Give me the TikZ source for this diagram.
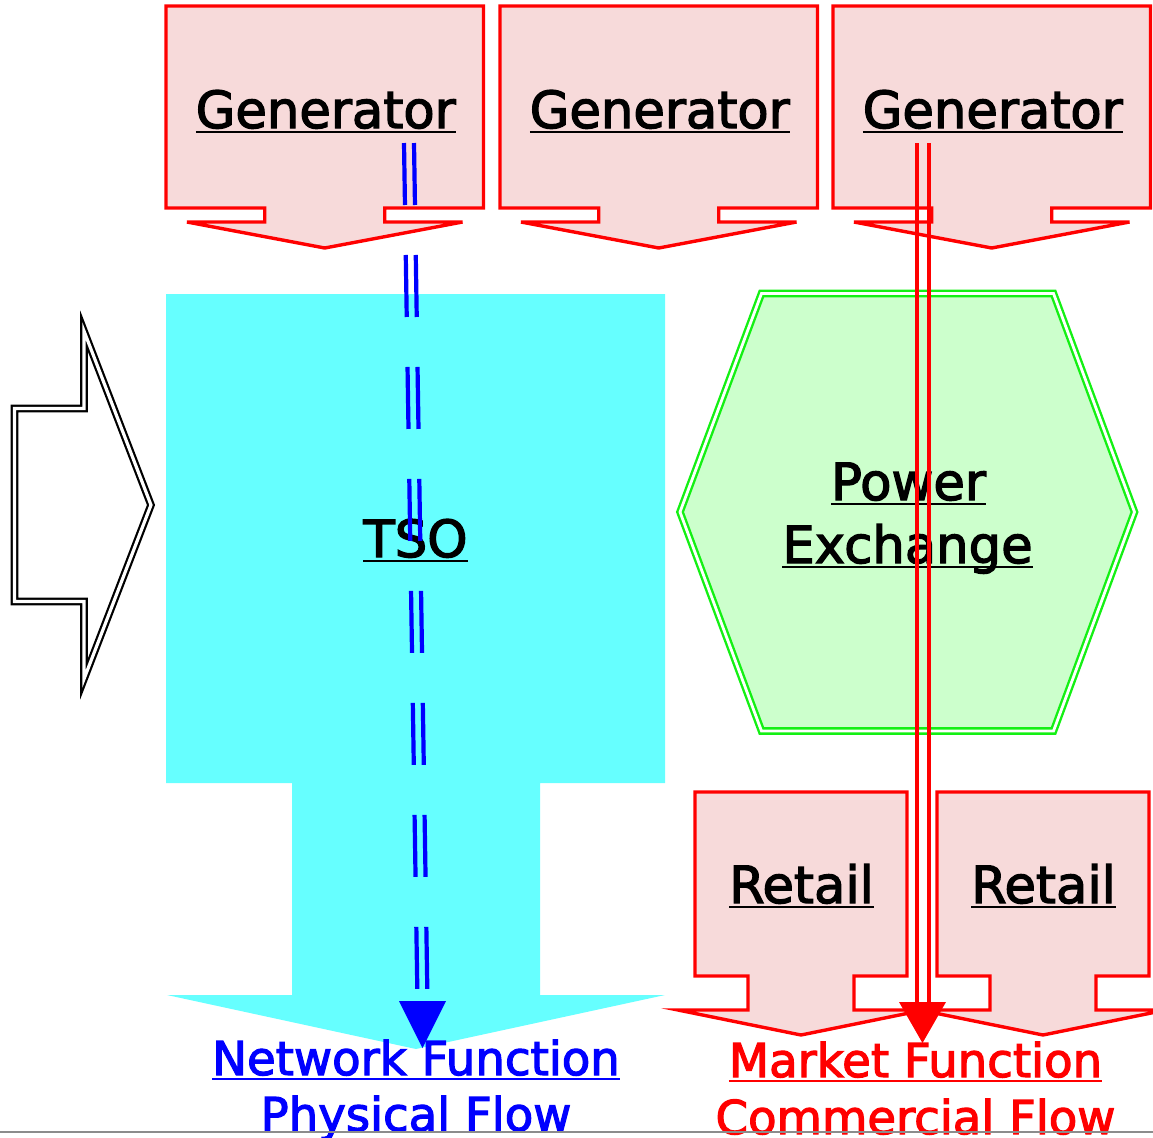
\documentclass[tikz,border=0pt]{standalone}
\usepackage{fontspec}
\setmainfont{DejaVu Sans}[FakeBold=2.5]
\usetikzlibrary{calc}
\definecolor{pinkfill}{RGB}{247,218,218}
\definecolor{cyanfill}{RGB}{102,255,255}
\definecolor{greenfill}{RGB}{204,255,204}
\definecolor{greenline}{RGB}{20,240,20}
\definecolor{bottomgray}{RGB}{140,140,140}
\newcommand{\ulx}[1]{\setbox0\hbox{#1}\rlap{\rule[-2.7pt]{\wd0}{1.4pt}}\box0}
\begin{document}
\begin{tikzpicture}[x=0.5pt,y=-0.5pt,
  lbl/.style={inner sep=0pt, anchor=base, font=\fontsize{25.6pt}{31pt}\selectfont},
  flowlbl/.style={inner sep=0pt, anchor=base, font=\fontsize{23.3pt}{28pt}\selectfont},
  redbox/.style={draw=red, line width=1.7pt, fill=pinkfill, line join=miter},
  hexbox/.style={draw=greenline, double=white, double distance=1.4pt, line width=1.2pt, fill=greenfill, line join=miter},
  bigarrow/.style={draw=black, double=white, double distance=1.6pt, line width=1.1pt, fill=white, line join=miter},
  bluedash/.style={draw=blue, line width=2.1pt, dash pattern=on 31pt off 25pt},
  redflow/.style={draw=red, line width=2pt}]
\useasboundingbox (0,0) rectangle (1153,1137);
\clip (0,0) rectangle (1153,1137);

% Generators
\foreach \cx/\n in {324.75/1, 658.75/2, 991.75/3} {
  \draw[redbox] (\cx-158.75,6) -- (\cx+158.75,6) -- (\cx+158.75,208) -- (\cx+60,208)
    -- (\cx+60,222) -- (\cx+137.75,222) -- (\cx,248) -- (\cx-137.75,222)
    -- (\cx-60,222) -- (\cx-60,208) -- (\cx-158.75,208) -- cycle;
  \node[lbl] (gen\n) at (\cx+1,128) {\ulx{Generator}};
}

% TSO
\fill[cyanfill] (166,294) -- (665,294) -- (665,783) -- (540,783) -- (540,995) -- (665,995)
  -- (416,1049) -- (167,995) -- (292,995) -- (292,783) -- (166,783) -- cycle;
\node[lbl] (tso) at (415.5,557) {\ulx{TSO}};

% Power Exchange
\draw[hexbox] (761.5,293.5) -- (1053.5,293.5) -- (1134.5,512) -- (1053.5,731) -- (761.5,731) -- (680,512) -- cycle;
\node[lbl] (pe1) at (908.5,500) {\ulx{Power}};
\node[lbl] (pe2) at (907.5,563) {\ulx{Exchange}};

% Retail
\foreach \cx/\n in {801/1, 1043/2} {
  \draw[redbox] (\cx-106,792) -- (\cx+106,792) -- (\cx+106,976) -- (\cx+53,976)
    -- (\cx+53,1010) -- (\cx+123,1010) -- (\cx,1035) -- (\cx-123,1010)
    -- (\cx-53,1010) -- (\cx-53,976) -- (\cx-106,976) -- cycle;
  \node[lbl] (ret\n) at (\cx+0.5,903) {\ulx{Retail}};
}

% Left arrow
\draw[bigarrow] (14.5,408.5) -- (84,408.5) -- (84,331) -- (151,505) -- (84,679) -- (84,601.5) -- (14.5,601.5) -- cycle;

% Bottom labels
\node[flowlbl, text=blue] (nf1) at (416,1075) {\ulx{Network Function}};
\node[flowlbl, text=blue] (nf2) at (416,1131) {Physical Flow};
\node[flowlbl, text=red] (mf1) at (915.5,1077) {\ulx{Market Function}};
\node[flowlbl, text=red] (mf2) at (915.5,1134) {Commercial Flow};

% bottom gray rule
\draw[bottomgray, line width=1pt] (0,1132) -- (1153,1132);

% Physical flow (blue dashed double)
\coordinate (bs) at (409,143);
\coordinate (be) at (422.5,1001);
\coordinate (bt) at (422.5,1048);
\draw[bluedash] ([xshift=-2.5pt]bs) -- ([xshift=-2.5pt]be);
\draw[bluedash] ([xshift=2.5pt]bs) -- ([xshift=2.5pt]be);
\fill[blue] ([xshift=-11.75pt]be) -- ([xshift=11.75pt]be) -- (bt) -- cycle;

% Commercial flow (red double)
\coordinate (rs) at (922.5,143);
\coordinate (re) at (922.5,1002);
\coordinate (rt) at (922.5,1043);
\draw[redflow] ([xshift=-3pt]rs) -- ([xshift=-3pt]re);
\draw[redflow] ([xshift=3pt]rs) -- ([xshift=3pt]re);
\fill[red] ([xshift=-11.75pt]re) -- ([xshift=11.75pt]re) -- (rt) -- cycle;
\end{tikzpicture}
\end{document}
